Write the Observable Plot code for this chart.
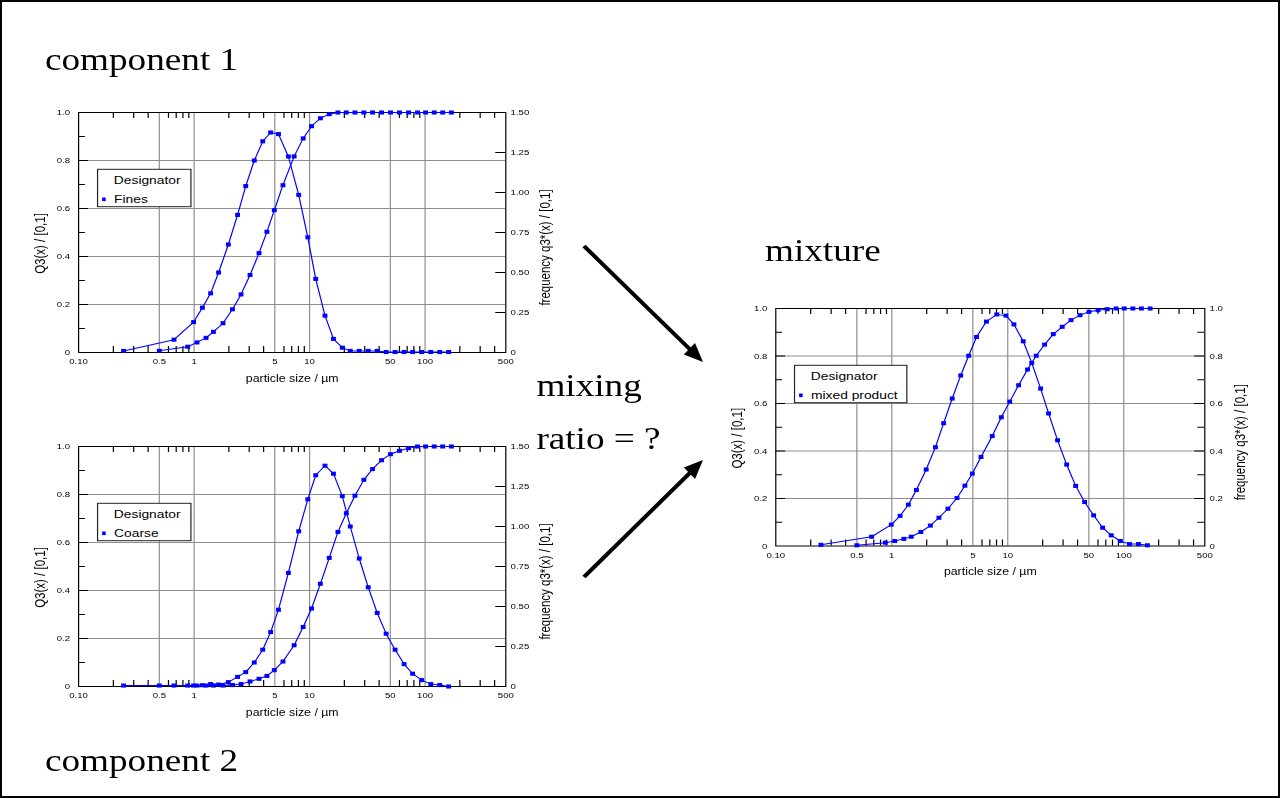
<!DOCTYPE html>
<html>
<head>
<meta charset="utf-8">
<script src="https://cdn.jsdelivr.net/npm/d3@7"></script>
<script src="https://cdn.jsdelivr.net/npm/@observablehq/plot@0.6"></script>
<style>
html,body{margin:0;padding:0;background:#fff;}
#wrap{position:relative;width:1280px;height:798px;overflow:hidden;background:#fff;}
#border{position:absolute;left:0;top:0;width:1280px;height:798px;box-sizing:border-box;border:2px solid #000;pointer-events:none;z-index:10;}
#stage{position:absolute;left:0;top:0;width:1066.667px;height:798px;transform:scaleX(1.2);transform-origin:0 0;}
.panel{position:absolute;}
.panel svg{overflow:visible;}
#overlay{position:absolute;left:0;top:0;pointer-events:none;overflow:visible;}
</style>
</head>
<body>
<div id="wrap"><div id="stage"></div><div id="border"></div></div>
<script>
// ---------- data ----------
const sizeCum  = [0.5, 0.88, 1.06, 1.27, 1.47, 1.78, 2.15, 2.55, 3.05, 3.65, 4.27, 4.95, 5.88, 7.35, 8.8, 10.4, 12.4, 14.8, 17.6, 20.8, 24.7, 29.5, 35.1, 42, 50.2, 60, 72, 86, 101, 120, 142, 169];
const sizeDens = [0.245, 0.67, 0.99, 1.18, 1.39, 1.63, 1.98, 2.38, 2.8, 3.32, 3.93, 4.6, 5.38, 6.55, 8.05, 9.65, 11.3, 13.6, 16.1, 19.2, 22.5, 26.9, 32.2, 38.5, 46, 55, 65.8, 78, 93.5, 112, 134, 160];

const finesQ3  = [0.007, 0.024, 0.042, 0.061, 0.086, 0.122, 0.180, 0.242, 0.323, 0.414, 0.503, 0.593, 0.697, 0.817, 0.892, 0.943, 0.976, 0.993, 1, 1, 1, 1, 1, 1, 1, 1, 1, 1, 1, 1, 1, 1];
const finesq3  = [0.01, 0.08, 0.19, 0.28, 0.37, 0.50, 0.675, 0.86, 1.04, 1.20, 1.32, 1.375, 1.365, 1.225, 0.985, 0.72, 0.46, 0.23, 0.085, 0.03, 0.01, 0.01, 0.01, 0.01, 0.003, 0.003, 0.003, 0.003, 0.003, 0.003, 0.003, 0.003];

const coarseQ3 = [0.004, 0.004, 0.004, 0.004, 0.004, 0.004, 0.006, 0.010, 0.021, 0.032, 0.044, 0.068, 0.104, 0.172, 0.248, 0.325, 0.428, 0.536, 0.644, 0.722, 0.795, 0.861, 0.906, 0.943, 0.968, 0.982, 0.993, 1, 1, 1, 1, 1];
const coarseq3 = [0.006, 0.006, 0.006, 0.008, 0.015, 0.012, 0.027, 0.06, 0.09, 0.15, 0.23, 0.34, 0.48, 0.71, 0.97, 1.17, 1.32, 1.38, 1.33, 1.19, 1.0, 0.80, 0.62, 0.46, 0.33, 0.23, 0.14, 0.08, 0.04, 0.015, 0.009, 0.0];

const mixQ3    = [0.003, 0.014, 0.021, 0.030, 0.039, 0.059, 0.086, 0.119, 0.157, 0.202, 0.254, 0.305, 0.375, 0.463, 0.542, 0.608, 0.677, 0.743, 0.801, 0.848, 0.892, 0.923, 0.951, 0.972, 0.986, 0.993, 0.997, 1, 1, 1, 1, 1];
const mixq3    = [0.005, 0.039, 0.090, 0.127, 0.174, 0.236, 0.322, 0.416, 0.517, 0.621, 0.718, 0.801, 0.880, 0.945, 0.975, 0.970, 0.933, 0.862, 0.771, 0.663, 0.558, 0.445, 0.343, 0.253, 0.185, 0.129, 0.077, 0.045, 0.021, 0.008, 0.008, 0.003];

const xTickVals   = [0.1, 0.5, 1, 5, 10, 50, 100, 500];
const xTickLabels = ["0.10", "0.5", "1", "5", "10", "50", "100", "500"];
const xGrid  = [0.5, 1, 5, 10, 50, 100];
const xMinor = [0.2, 0.3, 0.4, 0.6, 0.7, 0.8, 0.9, 2, 3, 4, 6, 7, 8, 9, 20, 30, 40, 60, 70, 80, 90, 200, 300, 400];
const leftVals   = [0, 0.2, 0.4, 0.6, 0.8, 1.0];
const leftLabels = ["0", "0.2", "0.4", "0.6", "0.8", "1.0"];
const yGrid  = [0.2, 0.4, 0.6, 0.8];
const yMinor = [0.1, 0.3, 0.5, 0.7, 0.9];
const freqVals   = [0, 0.25, 0.5, 0.75, 1.0, 1.25, 1.5];
const freqLabels = ["0", "0.25", "0.50", "0.75", "1.00", "1.25", "1.50"];

const xTitle = "particle size / µm";
const yTitle = "Q3(x) / [0,1]";
const y2Title = "frequency q3*(x) / [0,1]";
const legendTitle = "Designator";

// ---------- layout ----------
const SANS = "'Liberation Sans', Arial, Helvetica, sans-serif";
const SERIF = "'Liberation Serif', 'Times New Roman', serif";
const blue = "#0000ff";
const grid = "#8f8f8f";
const TICKFS = 8;
const M = {left: 45, right: 45, top: 8, bottom: 40};
const stage = document.getElementById("stage");

function makePanel(cfg) {
  const fw = cfg.fw, fh = cfg.fh;
  const cum = sizeCum.map((s, i) => ({size: s, v: cfg.Q3[i]}));
  const den = sizeDens.map((s, i) => ({size: s, v: cfg.q3[i]}));
  const rightPos = cfg.rightVals.map(v => v / cfg.rightMax);
  const plot = Plot.plot({
    width: M.left + fw + M.right,
    height: M.top + fh + M.bottom,
    marginLeft: M.left, marginRight: M.right, marginTop: M.top, marginBottom: M.bottom,
    x: {type: "log", domain: [0.1, 500], axis: null},
    y: {domain: [0, 1], axis: null},
    style: {fontFamily: SANS, background: "transparent", overflow: "visible", color: "#000"},
    marks: [
      Plot.ruleX(xGrid, {x: d => d, stroke: grid, strokeWidth: 1}),
      Plot.ruleY(yGrid, {y: d => d, stroke: grid, strokeWidth: 1}),
      Plot.tickX(xMinor, {x: d => d, insetTop: fh - 6, stroke: "#000"}),
      Plot.tickX(xMinor, {x: d => d, insetBottom: fh - 6, stroke: "#000"}),
      Plot.tickY(yMinor, {y: d => d, insetRight: fw - 5.8, stroke: "#000"}),
      Plot.tickY(yGrid, {y: d => d, insetRight: fw - 8.3, stroke: "#000"}),
      Plot.tickY(cfg.rightMajor.map(v => v / cfg.rightMax), {y: d => d, insetLeft: fw - 8.3, stroke: "#000"}),
      Plot.tickY(cfg.rightMinor.map(v => v / cfg.rightMax), {y: d => d, insetLeft: fw - 5.8, stroke: "#000"}),
      Plot.frame({stroke: "#000", strokeWidth: 1}),
      Plot.text(xTickVals, {x: d => d, frameAnchor: "bottom", text: (d, i) => xTickLabels[i], dy: 11.5, fontSize: TICKFS, fill: "#000"}),
      Plot.text(leftVals, {y: d => d, frameAnchor: "left", text: (d, i) => leftLabels[i], textAnchor: "end", dx: -7, fontSize: TICKFS, fill: "#000"}),
      Plot.text(rightPos, {y: d => d, frameAnchor: "right", text: (d, i) => cfg.rightLabels[i], textAnchor: "start", dx: 4, fontSize: TICKFS, fill: "#000"}),
      Plot.line(cum, {x: "size", y: "v", stroke: blue, strokeWidth: 1}),
      Plot.dot(cum, {x: "size", y: "v", symbol: "square", r: 2.3, fill: blue, stroke: "none"}),
      Plot.line(den, {x: "size", y: d => d.v / cfg.rightMax, stroke: blue, strokeWidth: 1}),
      Plot.dot(den, {x: "size", y: d => d.v / cfg.rightMax, symbol: "square", r: 2.3, fill: blue, stroke: "none"}),
      Plot.text([xTitle], {frameAnchor: "bottom", dy: 29, fontSize: 10.3, fill: "#000"}),
      Plot.text([yTitle], {frameAnchor: "left", textAnchor: "middle", rotate: -90, dx: -32, dy: 11, fontSize: 11.5, fill: "#000"}),
      Plot.text([y2Title], {frameAnchor: "right", textAnchor: "middle", rotate: -90, dx: cfg.y2dx, dy: 15, fontSize: 11.5, fill: "#000"})
    ]
  });
  const div = document.createElement("div");
  div.className = "panel";
  div.style.left = (cfg.fx - M.left) + "px";
  div.style.top = (cfg.fy - M.top) + "px";
  div.appendChild(plot);
  stage.appendChild(div);
}

makePanel({fx: 65, fy: 112, fw: 356, fh: 240, Q3: finesQ3, q3: finesq3, rightMax: 1.5,
  rightVals: freqVals, rightLabels: freqLabels, rightMajor: [0.25, 0.5, 0.75, 1.0, 1.25], rightMinor: [], y2dx: 33});
makePanel({fx: 65, fy: 446, fw: 356, fh: 240, Q3: coarseQ3, q3: coarseq3, rightMax: 1.5,
  rightVals: freqVals, rightLabels: freqLabels, rightMajor: [0.25, 0.5, 0.75, 1.0, 1.25], rightMinor: [], y2dx: 33});
makePanel({fx: 645.8, fy: 308.3, fw: 357.5, fh: 237.5, Q3: mixQ3, q3: mixq3, rightMax: 1.0,
  rightVals: leftVals, rightLabels: leftLabels, rightMajor: yGrid, rightMinor: yMinor, y2dx: 30});

// ---------- overlay: titles, legends, arrows ----------
const S = 1.2; // horizontal stretch of the stage
const svg = d3.create("svg").attr("id", "overlay").attr("width", 1066.667).attr("height", 798);
const titles = [
  {t: "component 1", x: 37.5, y: 70},
  {t: "component 2", x: 37.5, y: 771},
  {t: "mixture", x: 637.5, y: 261},
  {t: "mixing", x: 447, y: 396},
  {t: "ratio = ?", x: 447, y: 449}
];
svg.selectAll("text.title").data(titles).join("text").attr("class", "title")
  .attr("x", d => d.x).attr("y", d => d.y).text(d => d.t)
  .attr("font-family", SERIF).attr("font-size", 31).attr("fill", "#000");

function legend(x, y, w, name) {
  const g = svg.append("g").attr("transform", `translate(${x},${y})`);
  g.append("rect").attr("x", 0).attr("y", 0).attr("width", w).attr("height", 37.4)
    .attr("fill", "#fff").attr("stroke", "#222").attr("stroke-width", 1);
  g.append("text").attr("x", 13.6).attr("y", 15).text(legendTitle)
    .attr("font-family", SANS).attr("font-size", 11.5).attr("fill", "#000");
  g.append("rect").attr("x", 5.3 - 1.5).attr("y", 30 - 1.8).attr("width", 3).attr("height", 3.6).attr("fill", blue);
  g.append("text").attr("x", 13.8).attr("y", 33.7).text(name)
    .attr("font-family", SANS).attr("font-size", 11.5).attr("fill", "#000");
}
legend(81.3, 169.3, 77.8, "Fines");
legend(81.3, 503.3, 77.8, "Coarse");
legend(662.1, 365.3, 93.6, "mixed product");

function arrow(x1, y1, x2, y2) {
  // coordinates given in the picture's pixels; converted to stage units (x / S)
  const dx = x2 - x1, dy = y2 - y1, L = Math.hypot(dx, dy), ux = dx / L, uy = dy / L;
  const head = 19, hw = 8;
  const bx = x2 - ux * head, by = y2 - uy * head;
  svg.append("line").attr("x1", x1 / S).attr("y1", y1).attr("x2", (x2 - ux * (head - 3)) / S).attr("y2", y2 - uy * (head - 3))
    .attr("stroke", "#000").attr("stroke-width", 3.6);
  svg.append("path").attr("d", `M${x2 / S},${y2}L${(bx - uy * hw) / S},${by + ux * hw}L${(bx + uy * hw) / S},${by - ux * hw}Z`).attr("fill", "#000");
}
arrow(584, 246, 703, 362);
arrow(584, 577, 703, 460);

stage.appendChild(svg.node());
</script>
</body>
</html>
